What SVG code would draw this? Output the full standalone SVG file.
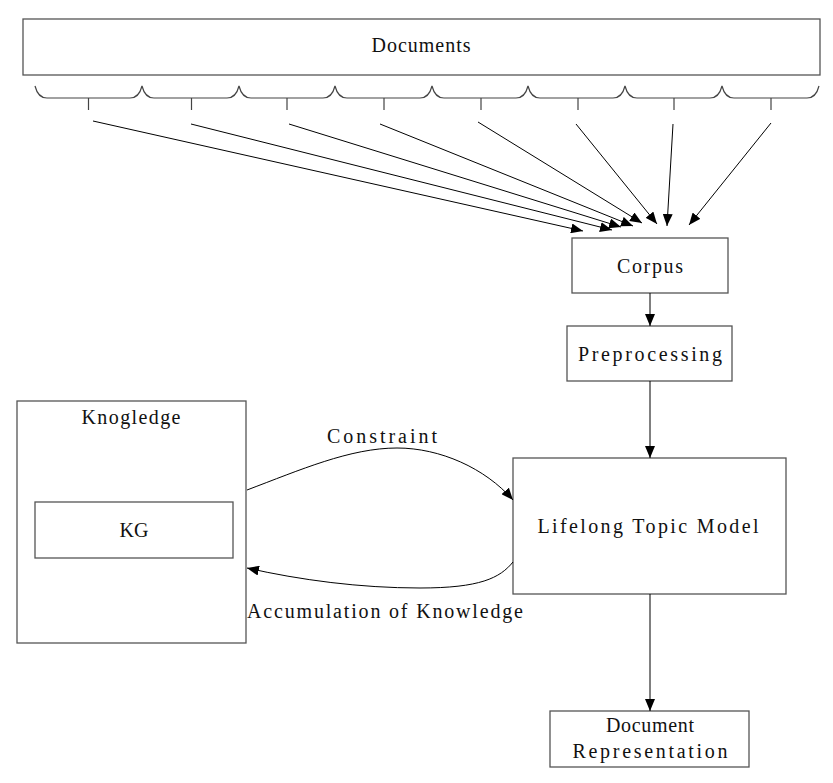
<svg xmlns="http://www.w3.org/2000/svg" width="833" height="783" viewBox="0 0 833 783">
<style>
.box{fill:#fff;stroke:#555;stroke-width:1.3}
.t{font-family:"Liberation Serif","DejaVu Serif",serif;font-size:20px;fill:#111;text-anchor:middle}
.c{fill:none;stroke:#000;stroke-width:1;marker-end:url(#ah)}
.br{fill:none;stroke:#444;stroke-width:1.2}
</style>
<defs>
<marker id="ah" markerUnits="userSpaceOnUse" markerWidth="12" markerHeight="10" refX="12" refY="5" orient="auto">
<path d="M0,0 L12,5 L0,10 z" fill="#000"/>
</marker>
</defs>
<rect width="833" height="783" fill="#fff"/>
<g id="documents">
<rect class="box" x="23" y="19" width="797" height="56"/>
<text class="t" x="421" y="52" textLength="99" lengthAdjust="spacing">Documents</text>
<path class="br" d="M35,86 Q38,98 47,98 L130,98 Q139,98 142,86 Q145,98 154,98 L227,98 Q236,98 239,86 Q242,98 251,98 L323,98 Q332,98 335,86 Q338,98 347,98 L420,98 Q429,98 432,86 Q435,98 444,98 L516,98 Q525,98 528,86 Q531,98 540,98 L613,98 Q622,98 625,86 Q628,98 637,98 L710,98 Q719,98 722,86 Q725,98 734,98 L807,98 Q816,98 819,86"/>
<path class="br" d="M88.5,98 V110 M191.5,98 V110 M287,98 V110 M384,98 V110 M481,98 V110 M578,98 V110 M674,98 V110 M771,98 V110"/>
</g>
<g id="corpus">
<rect class="box" x="572" y="238" width="156" height="55"/>
<text class="t" x="650" y="273" textLength="66" lengthAdjust="spacing">Corpus</text>
</g>
<g id="preprocessing">
<rect class="box" x="567" y="326" width="165" height="55"/>
<text class="t" x="650" y="361" textLength="144" lengthAdjust="spacing">Preprocessing</text>
</g>
<g id="ltm">
<rect class="box" x="513" y="458" width="273" height="136"/>
<text class="t" x="648" y="533" textLength="221" lengthAdjust="spacing">Lifelong Topic Model</text>
</g>
<g id="docrep">
<rect class="box" x="550" y="711" width="199" height="56"/>
<text class="t" x="650" y="732" textLength="88" lengthAdjust="spacing">Document</text>
<text class="t" x="650" y="758" textLength="155" lengthAdjust="spacing">Representation</text>
</g>
<g id="knowledge">
<rect class="box" x="17" y="401" width="229" height="242"/>
<text class="t" x="131" y="424" textLength="99" lengthAdjust="spacing">Knogledge</text>
</g>
<g id="kg">
<rect class="box" x="35" y="502" width="198" height="56"/>
<text class="t" x="134" y="537">KG</text>
</g>
<g id="connectors">
<line class="c" x1="93" y1="121" x2="583" y2="231"/>
<line class="c" x1="191" y1="124" x2="612" y2="230"/>
<line class="c" x1="289" y1="124" x2="621" y2="227"/>
<line class="c" x1="380" y1="124" x2="633" y2="226"/>
<line class="c" x1="478" y1="122" x2="642" y2="223"/>
<line class="c" x1="576" y1="124" x2="657" y2="224"/>
<line class="c" x1="673" y1="124" x2="667" y2="226"/>
<line class="c" x1="771" y1="123" x2="689" y2="225"/>
<line class="c" x1="650" y1="293" x2="650" y2="326"/>
<line class="c" x1="650" y1="381" x2="650" y2="458"/>
<line class="c" x1="650" y1="594" x2="650" y2="711"/>
<path class="c" d="M247,490 C300,470 350,448 397,448 C440,448 485,468 513,500"/>
<path class="c" d="M513,562 C500,578 480,588 420,588 C360,588 300,580 247,568"/>
<text class="t" x="382" y="443" textLength="110" lengthAdjust="spacing">Constraint</text>
<text class="t" x="385" y="618" textLength="276" lengthAdjust="spacing">Accumulation of Knowledge</text>
</g>
</svg>
